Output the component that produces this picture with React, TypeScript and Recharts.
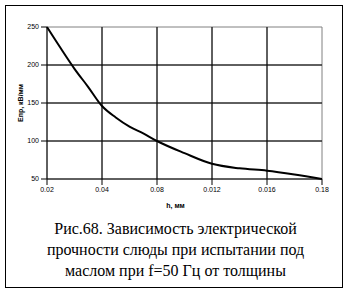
import React from 'react'
import { LineChart, Line, XAxis, YAxis, CartesianGrid } from 'recharts'

// positions along the category axis (0..5) and the read values, kV/mm
const positions = [0, 0.25, 0.5, 0.75, 1, 1.25, 1.5, 1.75, 2, 2.5, 3, 3.5, 4, 4.5, 5]
const strength = [250, 222, 195, 171, 146, 131, 119, 110, 100, 84, 70, 64, 61, 56, 50]
const tickLabels = ['0.02', '0.04', '0.08', '0.012', '0.016', '0.18']
const xTicks = [0, 1, 2, 3, 4, 5]
const yTicks = [50, 100, 150, 200, 250]

const data = positions.map((p, i) => ({ x: p, e: strength[i] }))

const captionLines = [
  'Рис.68. Зависимость электрической',
  'прочности слюды при испытании под',
  'маслом при f=50 Гц от толщины',
]

const tickStyle = { fontFamily: 'Liberation Sans, Arial', fontSize: 7, fill: '#000' }

export default function App() {
  return (
    <div style={{ position: 'absolute', left: 0, top: 0, width: 351, height: 296, background: '#fff' }}>
      <LineChart width={351} height={296} data={data} margin={{ top: 27, left: 17, right: 29, bottom: 87 }}>
        <CartesianGrid stroke="#808080" />
        <CartesianGrid stroke="#000" horizontalValues={yTicks.slice(1, -1)} verticalValues={xTicks.slice(1, -1)} />
        <XAxis
          dataKey="x"
          type="number"
          domain={[0, 5]}
          ticks={xTicks}
          tickFormatter={(v: number) => tickLabels[v]}
          height={30}
          axisLine={{ stroke: '#000' }}
          tickLine={{ stroke: '#000' }}
          tick={tickStyle}
          interval={0}
        />
        <YAxis
          type="number"
          domain={[50, 250]}
          ticks={yTicks}
          width={30}
          axisLine={{ stroke: '#000' }}
          tickLine={{ stroke: '#000' }}
          tick={tickStyle}
          interval={0}
        />
        <Line dataKey="e" type="monotone" stroke="#000" strokeWidth={2} dot={false} isAnimationActive={false} />
      </LineChart>
      <div
        style={{
          position: 'absolute',
          left: 5,
          top: 5,
          width: 336,
          height: 281,
          border: '1px solid #000',
          pointerEvents: 'none',
        }}
      />
      <div
        style={{
          position: 'absolute',
          left: 0,
          top: 202,
          width: 351,
          textAlign: 'center',
          fontFamily: 'Liberation Sans, Arial',
          fontSize: 7,
          fontWeight: 'bold',
        }}
      >
        h, мм
      </div>
      <div
        style={{
          position: 'absolute',
          left: 20,
          top: 103,
          transform: 'translate(-50%, -50%) rotate(-90deg)',
          fontFamily: 'Liberation Sans, Arial',
          fontSize: 7,
          fontWeight: 'bold',
          whiteSpace: 'nowrap',
        }}
      >
        Eпр, кВ/мм
      </div>
      <div
        style={{
          position: 'absolute',
          left: 0,
          top: 218,
          width: 351,
          textAlign: 'center',
          fontFamily: '"Liberation Serif", "Times New Roman", serif',
          fontSize: 16,
          lineHeight: '21px',
        }}
      >
        {captionLines.map((l) => (
          <div key={l}>{l}</div>
        ))}
      </div>
    </div>
  )
}
